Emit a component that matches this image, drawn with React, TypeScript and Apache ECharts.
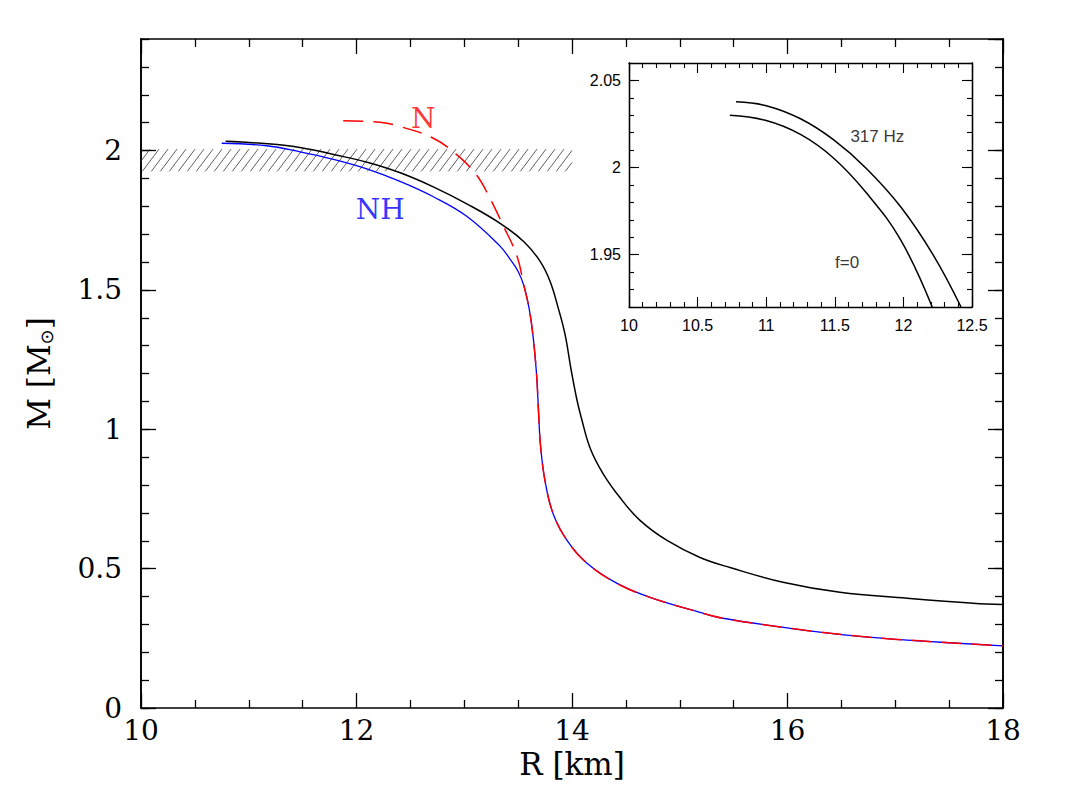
import React, { useEffect, useRef } from "react";
import * as echarts from "echarts";

// ---------- main panel data (R in km, M in solar masses) ----------
const blackR = [10.786, 11.177, 11.487, 11.797, 12.107, 12.406, 12.727, 13.037, 13.336, 13.556, 13.703, 13.796, 13.87, 13.935, 13.991, 14.046, 14.084, 14.167, 14.288, 14.445, 14.631, 14.882, 15.188, 15.466, 15.958, 16.487, 17.109, 17.722, 18.0];
const blackM = [2.033, 2.024, 2.01, 1.985, 1.957, 1.92, 1.867, 1.806, 1.738, 1.672, 1.603, 1.531, 1.438, 1.341, 1.215, 1.105, 1.045, 0.934, 0.841, 0.755, 0.673, 0.601, 0.54, 0.504, 0.451, 0.415, 0.394, 0.376, 0.371];

const blueR = [10.749, 11.167, 11.476, 11.785, 12.095, 12.404, 12.713, 13.023, 13.332, 13.425, 13.499, 13.555, 13.601, 13.633, 13.657, 13.675, 13.689, 13.708, 13.749, 13.824, 13.954, 14.139, 14.418, 14.724, 15.188, 15.401, 16.023, 16.645, 17.258, 18.0];
const blueM = [2.026, 2.017, 1.995, 1.968, 1.934, 1.889, 1.834, 1.764, 1.657, 1.61, 1.567, 1.513, 1.435, 1.352, 1.263, 1.174, 1.066, 0.941, 0.816, 0.698, 0.601, 0.519, 0.447, 0.397, 0.343, 0.322, 0.286, 0.258, 0.24, 0.223];

const redR = [11.877, 12.218, 12.404, 12.713, 12.93, 13.116, 13.239, 13.362, 13.487, 13.555, 13.601, 13.633, 13.657, 13.675, 13.689, 13.708, 13.749, 13.824, 13.954, 14.139, 14.418, 14.724, 15.188, 15.401, 16.023, 16.645, 17.258, 18.0];
const redM = [2.107, 2.101, 2.086, 2.044, 1.985, 1.911, 1.828, 1.73, 1.624, 1.513, 1.435, 1.352, 1.263, 1.174, 1.066, 0.941, 0.816, 0.698, 0.601, 0.519, 0.447, 0.397, 0.343, 0.322, 0.286, 0.258, 0.24, 0.223];

// observed mass band (hatched)
const bandR = [10, 14];
const bandM = [1.925, 2.005];

// main panel annotations
const mainLabels = [
  { name: "N", r: 12.62, m: 2.114, color: "#ff0000" },
  { name: "NH", r: 12.22, m: 1.789, color: "#0000ff" },
];

// ---------- inset data ----------
const hz317R = [10.78, 11.0, 11.25, 11.49, 11.73, 11.98, 12.22, 12.42];
const hz317M = [2.0377, 2.0355, 2.028, 2.016, 1.9995, 1.9775, 1.9495, 1.92];
const f0R = [10.735, 11.0, 11.25, 11.49, 11.73, 11.98, 12.21];
const f0M = [2.03, 2.027, 2.019, 2.0055, 1.9855, 1.9585, 1.92];

const insetLabels = [
  { name: "317 Hz", r: 11.81, m: 2.018 },
  { name: "f=0", r: 11.59, m: 1.9456 },
];

// tick settings
const mainXTicks = { min: 10, max: 18, major: 2, minorSplit: 4 };
const mainYTicks = { min: 0, max: 2.4, major: 0.5, minor: 0.1 };
const insetXTicks = { min: 10, max: 12.5, major: 0.5, minorSplit: 5 };
const insetYTicks = { min: 1.92, max: 2.06, majorValues: [1.95, 2.0, 2.05], minor: 0.01 };

const SERIF = "'DejaVu Serif', 'Liberation Serif', serif";
const SANS = "'Liberation Sans', Arial, Helvetica, sans-serif";

const zip = (a: number[], b: number[]) => a.map((v, i) => [v, b[i]]);

export default function App() {
  const ref = useRef<HTMLDivElement>(null);

  useEffect(() => {
    if (!ref.current) return;
    const chart = echarts.init(ref.current, undefined, { renderer: "svg" });

    const frame = { show: true, onZero: false, lineStyle: { color: "#000", width: 1.6 } };
    const insetFrame = { show: true, onZero: false, lineStyle: { color: "#000", width: 1.3 } };
    const noSplit = { show: false };

    const xMain = (pos: string, labels: boolean): any => ({
      gridIndex: 0,
      type: "value",
      position: pos,
      min: mainXTicks.min,
      max: mainXTicks.max,
      interval: mainXTicks.major,
      axisLine: frame,
      axisTick: { show: true, inside: true, length: 15, lineStyle: { color: "#000", width: 1.3 } },
      minorTick: { show: true, splitNumber: mainXTicks.minorSplit, length: 8, lineStyle: { color: "#000", width: 1.3 } },
      axisLabel: { show: labels, fontFamily: SERIF, fontSize: 28, color: "#000", margin: 8 },
      splitLine: noSplit,
      minorSplitLine: noSplit,
      ...(labels
        ? {
            name: "R [km]",
            nameLocation: "middle",
            nameGap: 40,
            nameTextStyle: { fontFamily: SERIF, fontSize: 31, color: "#000" },
          }
        : {}),
    });

    const yMainMajor = (pos: string, labels: boolean): any => ({
      gridIndex: 0,
      type: "value",
      position: pos,
      min: mainYTicks.min,
      max: mainYTicks.max,
      interval: mainYTicks.major,
      axisLine: frame,
      axisTick: { show: true, inside: true, length: 15, lineStyle: { color: "#000", width: 1.3 } },
      axisLabel: { show: labels, fontFamily: SERIF, fontSize: 28, color: "#000", margin: 19, showMaxLabel: false },
      splitLine: noSplit,
      ...(labels
        ? {
            name: "M [M{s|⊙}]",
            nameLocation: "middle",
            nameRotate: 90,
            nameGap: 86,
            nameTextStyle: {
              fontFamily: SERIF,
              fontSize: 31,
              color: "#000",
              rich: { s: { fontFamily: "'DejaVu Sans', sans-serif", fontSize: 18, color: "#000", padding: [14, 0, 0, 0] } },
            },
          }
        : {}),
    });

    const yMainMinor = (pos: string): any => ({
      gridIndex: 0,
      type: "value",
      position: pos,
      min: mainYTicks.min,
      max: mainYTicks.max,
      interval: mainYTicks.minor,
      axisLine: frame,
      axisTick: { show: true, inside: true, length: 8, lineStyle: { color: "#000", width: 1.3 } },
      axisLabel: { show: false },
      splitLine: noSplit,
    });

    const xInset = (pos: string, labels: boolean): any => ({
      gridIndex: 1,
      type: "value",
      position: pos,
      min: insetXTicks.min,
      max: insetXTicks.max,
      interval: insetXTicks.major,
      axisLine: insetFrame,
      axisTick: { show: true, inside: true, length: 10, lineStyle: { color: "#000", width: 1.1 } },
      minorTick: { show: true, splitNumber: insetXTicks.minorSplit, length: 5, lineStyle: { color: "#000", width: 1.1 } },
      axisLabel: { show: labels, fontFamily: SANS, fontSize: 16, color: "#000", margin: 10 },
      splitLine: noSplit,
      minorSplitLine: noSplit,
    });

    const yInsetMajor = (pos: string, labels: boolean): any => ({
      gridIndex: 1,
      type: "value",
      position: pos,
      min: insetYTicks.min,
      max: insetYTicks.max,
      axisLine: insetFrame,
      axisTick: { show: true, inside: true, length: 10, customValues: insetYTicks.majorValues, lineStyle: { color: "#000", width: 1.1 } },
      axisLabel: { show: labels, customValues: insetYTicks.majorValues, fontFamily: SANS, fontSize: 16, color: "#000", margin: 8 },
      splitLine: noSplit,
    });

    const yInsetMinor = (pos: string): any => ({
      gridIndex: 1,
      type: "value",
      position: pos,
      min: insetYTicks.min,
      max: insetYTicks.max,
      interval: insetYTicks.minor,
      axisLine: insetFrame,
      axisTick: { show: true, inside: true, length: 5, lineStyle: { color: "#000", width: 1.1 } },
      axisLabel: { show: false },
      splitLine: noSplit,
    });

    const option: any = {
      animation: false,
      backgroundColor: "#fff",
      grid: [
        { left: 141, top: 39, width: 862, height: 669 },
        { left: 629, top: 63, width: 343, height: 244, show: true, backgroundColor: "#fff", borderWidth: 0 },
      ],
      xAxis: [xMain("bottom", true), xMain("top", false), xInset("bottom", true), xInset("top", false)],
      yAxis: [
        yMainMajor("left", true),
        yMainMinor("left"),
        yMainMajor("right", false),
        yMainMinor("right"),
        yInsetMajor("left", true),
        yInsetMinor("left"),
        yInsetMajor("right", false),
        yInsetMinor("right"),
      ],
      series: [
        {
          type: "custom",
          xAxisIndex: 0,
          yAxisIndex: 0,
          encode: { x: [0, 1], y: [2, 3] },
          data: [[bandR[0], bandR[1], bandM[0], bandM[1]]],
          z: 1,
          renderItem: (params: any, api: any) => {
            const tl = api.coord([api.value(0), api.value(3)]);
            const br = api.coord([api.value(1), api.value(2)]);
            const x0 = tl[0], y0 = tl[1], x1 = br[0], y1 = br[1];
            const h = y1 - y0;
            const k = 0.75;
            const step = 9;
            const children: any[] = [];
            for (let xs = x0 - k * h; xs <= x1; xs += step) {
              let ax = xs, ay = y1, bx = xs + k * h, by = y0;
              if (ax < x0) { ay = y1 - (x0 - xs) / k; ax = x0; }
              if (bx > x1) { by = y1 - (x1 - xs) / k; bx = x1; }
              if (bx <= ax) continue;
              children.push({
                type: "line",
                shape: { x1: ax, y1: ay, x2: bx, y2: by },
                style: { stroke: "#3a3a3a", lineWidth: 0.8 },
              });
            }
            return { type: "group", children };
          },
        },
        {
          type: "line",
          xAxisIndex: 0,
          yAxisIndex: 0,
          data: zip(blueR, blueM),
          showSymbol: false,
          smooth: 0.4,
          lineStyle: { color: "#0000ff", width: 1.3 },
          z: 3,
        },
        {
          type: "line",
          xAxisIndex: 0,
          yAxisIndex: 0,
          data: zip(blackR, blackM),
          showSymbol: false,
          smooth: 0.4,
          lineStyle: { color: "#000", width: 1.5 },
          z: 3,
        },
        {
          type: "line",
          xAxisIndex: 0,
          yAxisIndex: 0,
          data: zip(redR, redM),
          showSymbol: false,
          smooth: 0.4,
          lineStyle: { color: "#ff0000", width: 1.5, type: [20, 10] },
          z: 4,
        },
        ...mainLabels.map((l) => ({
          type: "scatter",
          xAxisIndex: 0,
          yAxisIndex: 0,
          symbolSize: 0,
          data: [{ name: l.name, value: [l.r, l.m] }],
          label: {
            show: true,
            position: "inside",
            formatter: "{b}",
            fontFamily: SERIF,
            fontSize: 28,
            color: l.color,
          },
          z: 5,
        })),
        {
          type: "line",
          xAxisIndex: 2,
          yAxisIndex: 4,
          data: zip(hz317R, hz317M),
          showSymbol: false,
          smooth: 0.4,
          lineStyle: { color: "#000", width: 1.5 },
          z: 6,
        },
        {
          type: "line",
          xAxisIndex: 2,
          yAxisIndex: 4,
          data: zip(f0R, f0M),
          showSymbol: false,
          smooth: 0.4,
          lineStyle: { color: "#000", width: 1.5 },
          z: 6,
        },
        {
          type: "scatter",
          xAxisIndex: 2,
          yAxisIndex: 4,
          symbolSize: 0,
          data: insetLabels.map((l) => ({ name: l.name, value: [l.r, l.m] })),
          label: {
            show: true,
            position: "inside",
            formatter: "{b}",
            fontFamily: SANS,
            fontSize: 17,
            color: "#000",
          },
          z: 7,
        },
      ],
    };

    chart.setOption(option);
    return () => chart.dispose();
  }, []);

  return (
    <div
      ref={ref}
      style={{ position: "absolute", left: 0, top: 0, width: 1067, height: 797, background: "#fff" }}
    />
  );
}
